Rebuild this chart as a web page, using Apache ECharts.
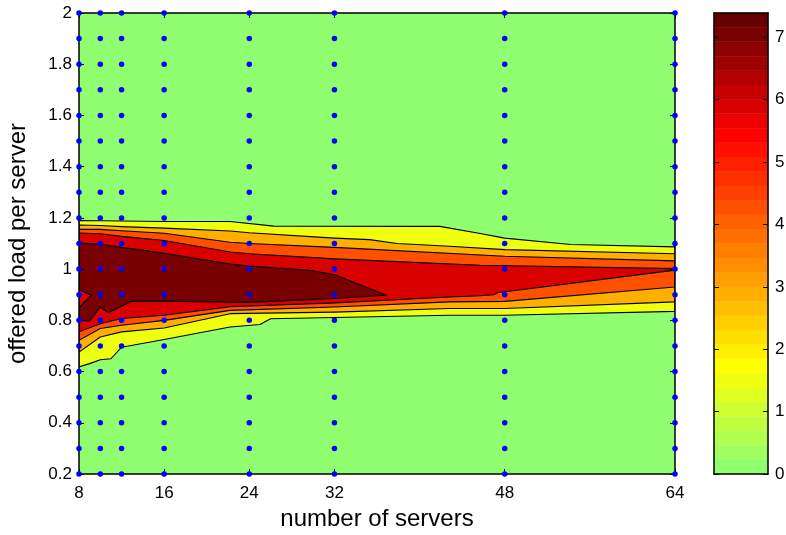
<!DOCTYPE html>
<html>
<head>
<meta charset="utf-8">
<script src="https://cdn.jsdelivr.net/npm/echarts@6/dist/echarts.min.js"></script>
<style>
  html, body { margin: 0; padding: 0; background: #ffffff; }
  #chart { width: 786px; height: 535px; }
</style>
</head>
<body>
<div id="chart"></div>
<script>
// Sample grid: number of servers x offered load per server
const serverCounts = [8, 10, 12, 16, 24, 32, 48, 64];
const loadLevels = [0.2, 0.3, 0.4, 0.5, 0.6, 0.7, 0.8, 0.9, 1.0, 1.1, 1.2,
                    1.3, 1.4, 1.5, 1.6, 1.7, 1.8, 1.9, 2.0];
const xTickValues = [8, 16, 24, 32, 48, 64];
const colorTickValues = [0, 1, 2, 3, 4, 5, 6, 7];
const colorMax = 7.39;

// Contour boundaries [servers, load] for each filled level, lowest level first.
// Upper and lower edges both run left to right.
const level1Upper = [[8, 1.19], [12, 1.188], [16, 1.186], [22.2, 1.186], [26.3, 1.168], [41.9, 1.167],
                     [45.7, 1.139], [48, 1.121], [54.2, 1.096], [64, 1.087]];
const level1Lower = [[8, 0.618], [9, 0.631], [10, 0.646], [11, 0.65], [12, 0.695], [16, 0.725],
                     [22.2, 0.774], [25, 0.784], [26, 0.806], [42.8, 0.82], [48, 0.82], [64, 0.835]];

const level2Upper = [[8, 1.172], [10, 1.17], [12, 1.166], [16, 1.16], [22.2, 1.149], [24, 1.142],
                     [32, 1.121], [35.3, 1.115], [37.9, 1.1], [42.8, 1.089], [48, 1.076], [64, 1.06]];
const level2Lower = [[8, 0.676], [10, 0.735], [12, 0.755], [16, 0.77], [22.2, 0.826], [32, 0.832],
                     [42.8, 0.846], [48, 0.846], [64, 0.872]];

const level3Upper = [[8, 1.155], [10, 1.155], [12, 1.15], [16, 1.14], [22.2, 1.105], [24, 1.1],
                     [32, 1.085], [48, 1.05], [64, 1.032]];
const level3Lower = [[8, 0.722], [10, 0.768], [12, 0.781], [16, 0.8], [22.2, 0.839], [32, 0.852],
                     [42.8, 0.872], [48, 0.874], [64, 0.93]];

const level4Upper = [[8, 1.141], [10, 1.138], [12, 1.128], [16, 1.112], [22.2, 1.067], [24, 1.06],
                     [32, 1.04], [45.7, 1.015], [64, 1.002]];
const level4Lower = [[8, 0.755], [10, 0.787], [12, 0.807], [16, 0.82], [22.2, 0.853], [32, 0.868],
                     [42.8, 0.891], [45.7, 0.896], [46.95, 0.9], [47.3, 0.908], [64, 0.996]];

const level5Upper = [[8, 1.102], [10, 1.097], [12, 1.085], [16, 1.062], [22.2, 1.02], [24, 1.012],
                     [29.7, 0.995], [32, 0.978], [36.9, 0.898]];
const level5Lower = [[8, 0.92], [9.16, 0.898], [8, 0.85], [8, 0.8], [9, 0.798], [10, 0.852],
                     [10.73, 0.83], [12.9, 0.874], [16, 0.875], [24, 0.87], [32, 0.885], [36.9, 0.898]];

const levelColors = ['#efff10', '#ffaf00', '#ff5000', '#d90000', '#790000'];

// 32-step colormap, green through yellow and red to dark red
const colormap = [
  '#8fff70', '#9fff60', '#afff50', '#bfff40', '#cfff30', '#dfff20', '#efff10', '#ffff00',
  '#ffef00', '#ffdf00', '#ffcf00', '#ffbf00', '#ffaf00', '#ff9f00', '#ff8f00', '#ff8000',
  '#ff7000', '#ff6000', '#ff5000', '#ff4000', '#ff3000', '#ff2000', '#ff1000', '#ff0000',
  '#ec0000', '#d90000', '#c60000', '#b30000', '#9f0000', '#8c0000', '#790000', '#660000'
];

const levels = [
  [level1Upper, level1Lower], [level2Upper, level2Lower], [level3Upper, level3Lower],
  [level4Upper, level4Lower], [level5Upper, level5Lower]
].map(function (pair, i) {
  return { points: pair[0].concat(pair[1].slice().reverse()), color: levelColors[i] };
});

const samplePoints = [];
serverCounts.forEach(function (n) {
  loadLevels.forEach(function (l) { samplePoints.push([n, l]); });
});

const FONT = '"Liberation Sans", Arial, Helvetica, sans-serif';
const black = '#000000';

const chart = echarts.init(document.getElementById('chart'), null, { renderer: 'canvas' });

function frameAxis(extra) {
  return Object.assign({
    z: 4,
    axisLine: { show: true, onZero: false, lineStyle: { color: black, width: 1.5 } },
    axisTick: { show: true, inside: true, length: 5, lineStyle: { color: black, width: 1 } },
    splitLine: { show: false }
  }, extra);
}

chart.setOption({
  animation: false,
  backgroundColor: '#ffffff',
  grid: [
    { left: 79, top: 13, width: 596, height: 461, show: true, backgroundColor: colormap[0],
      borderWidth: 0, containLabel: false, outerBoundsMode: 'none' },
    { left: 714, top: 13, width: 54, height: 461, show: false,
      containLabel: false, outerBoundsMode: 'none' }
  ],
  xAxis: [
    frameAxis({
      gridIndex: 0, type: 'value', min: 8, max: 64, position: 'bottom',
      axisTick: { show: true, inside: true, length: 5, customValues: xTickValues, lineStyle: { color: black } },
      axisLabel: { customValues: xTickValues, color: black, fontFamily: FONT, fontSize: 17, margin: 11 },
      name: 'number of servers', nameLocation: 'middle', nameGap: 33,
      nameTextStyle: { color: black, fontFamily: FONT, fontSize: 24 }
    }),
    frameAxis({
      gridIndex: 0, type: 'value', min: 8, max: 64, position: 'top',
      axisTick: { show: true, inside: true, length: 5, customValues: xTickValues, lineStyle: { color: black } },
      axisLabel: { show: false }
    }),
    frameAxis({ gridIndex: 1, type: 'value', min: 0, max: 1, position: 'bottom',
      axisTick: { show: false }, axisLabel: { show: false } }),
    frameAxis({ gridIndex: 1, type: 'value', min: 0, max: 1, position: 'top',
      axisTick: { show: false }, axisLabel: { show: false } })
  ],
  yAxis: [
    frameAxis({
      gridIndex: 0, type: 'value', min: 0.2, max: 2, interval: 0.2, position: 'left',
      axisLabel: { color: black, fontFamily: FONT, fontSize: 17, margin: 7 },
      name: 'offered load per server', nameLocation: 'middle', nameGap: 49,
      nameTextStyle: { color: black, fontFamily: FONT, fontSize: 24 }
    }),
    frameAxis({
      gridIndex: 0, type: 'value', min: 0.2, max: 2, interval: 0.2, position: 'right',
      axisLabel: { show: false }
    }),
    frameAxis({
      gridIndex: 1, type: 'value', min: 0, max: colorMax, position: 'right',
      axisTick: { show: true, inside: true, length: 5, customValues: colorTickValues, lineStyle: { color: black } },
      axisLabel: { customValues: colorTickValues, color: black, fontFamily: FONT, fontSize: 17, margin: 7 }
    }),
    frameAxis({
      gridIndex: 1, type: 'value', min: 0, max: colorMax, position: 'left',
      axisTick: { show: true, inside: true, length: 5, customValues: colorTickValues, lineStyle: { color: black } },
      axisLabel: { show: false }
    })
  ],
  series: [
    {
      // filled contour bands with black contour lines
      type: 'custom',
      xAxisIndex: 0, yAxisIndex: 0, z: 2,
      clip: true,
      data: levels.map(function (lv, i) { return [lv.points[0][0], lv.points[0][1], i]; }),
      renderItem: function (params, api) {
        const lv = levels[api.value(2)];
        const pts = lv.points.map(function (p) { return api.coord(p); });
        return {
          type: 'polygon',
          shape: { points: pts },
          style: { fill: lv.color, stroke: black, lineWidth: 1.1, lineJoin: 'round' }
        };
      }
    },
    {
      // sample locations
      type: 'scatter',
      xAxisIndex: 0, yAxisIndex: 0, z: 6,
      symbol: 'circle', symbolSize: 5.5,
      itemStyle: { color: '#0000ff', opacity: 1 },
      data: samplePoints
    },
    {
      // colour bar
      type: 'custom',
      xAxisIndex: 2, yAxisIndex: 2, z: 2,
      data: colormap.map(function (c, i) { return [0, i * colorMax / colormap.length, i]; }),
      renderItem: function (params, api) {
        const i = api.value(2);
        const step = colorMax / colormap.length;
        const p0 = api.coord([0, i * step]);
        const p1 = api.coord([1, (i + 1) * step]);
        return {
          type: 'rect',
          shape: { x: p0[0], y: p1[1], width: p1[0] - p0[0], height: p0[1] - p1[1] },
          style: { fill: colormap[i], stroke: colormap[i], lineWidth: 0.5 }
        };
      }
    }
  ]
});
</script>
</body>
</html>
